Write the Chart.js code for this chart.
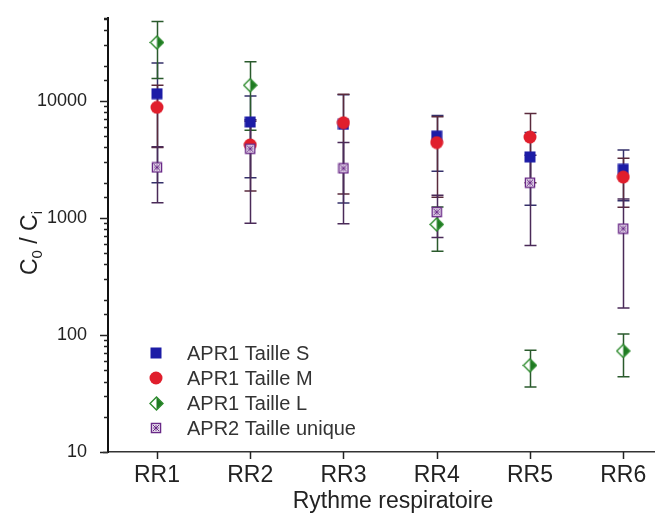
<!DOCTYPE html>
<html>
<head>
<meta charset="utf-8">
<script src="https://cdn.jsdelivr.net/npm/chart.js@4.4.0/dist/chart.umd.min.js"></script>
<style>
  html, body { margin: 0; padding: 0; background: #fff; }
  #wrap { width: 659px; height: 514px; }
</style>
</head>
<body>
<div id="wrap"><canvas id="myChart" width="659" height="514"></canvas></div>
<script>
const categories = ["RR1", "RR2", "RR3", "RR4", "RR5", "RR6"];
const seriesNames = ["APR1 Taille S", "APR1 Taille M", "APR1 Taille L", "APR2 Taille unique"];

// values and +/- error (null = no point)
const tailleS = [11500, 6600, 6300, 5000, 3320, 2600];
const tailleSErr = [9500, 4400, 4960, 2500, 2040, 1200];
const tailleM = [8800, 4200, 6500, 4400, 4900, 2230];
const tailleMErr = [4800, 2500, 4900, 2900, 2900, 1000];
const tailleL = [31500, 13600, null, 880, 55, 73];
const tailleLErr = [16000, 8000, null, 360, 19, 29];
const tailleU = [2700, 3900, 2650, 1120, 2000, 810];
const tailleUErr = [1350, 3000, 1760, 440, 1420, 640];
const yTickLabels = [10, 100, 1000, 10000];

const FONT = '"Liberation Sans", Arial, sans-serif';

function makeMarker(size, draw) {
  const c = document.createElement("canvas");
  c.width = size;
  c.height = size;
  draw(c.getContext("2d"), size);
  return c;
}

const markS = makeMarker(12, (g, s) => {
  g.fillStyle = "#1c1ca6";
  g.fillRect(0.5, 0.5, s - 1, s - 1);
});
const markM = makeMarker(14, (g, s) => {
  g.fillStyle = "#e01e2c";
  g.beginPath();
  g.arc(s / 2, s / 2, s / 2 - 0.5, 0, Math.PI * 2);
  g.fill();
});
const markL = makeMarker(15, (g, s) => {
  const c = s / 2, r = s / 2 - 1;
  g.fillStyle = "#fff";
  g.beginPath();
  g.moveTo(c, c - r); g.lineTo(c + r, c); g.lineTo(c, c + r); g.lineTo(c - r, c);
  g.closePath();
  g.fill();
  g.fillStyle = "#1f7a22";
  g.beginPath();
  g.moveTo(c, c - r); g.lineTo(c + r, c); g.lineTo(c, c + r);
  g.closePath();
  g.fill();
  g.strokeStyle = "#2e8b2e";
  g.lineWidth = 1.4;
  g.beginPath();
  g.moveTo(c, c - r); g.lineTo(c + r, c); g.lineTo(c, c + r); g.lineTo(c - r, c);
  g.closePath();
  g.stroke();
});
const markU = makeMarker(12, (g, s) => {
  g.fillStyle = "#fff";
  g.fillRect(1, 1, s - 2, s - 2);
  g.strokeStyle = "#6a2a88";
  g.lineWidth = 1.5;
  g.strokeRect(1.5, 1.5, s - 3, s - 3);
  g.lineWidth = 1;
  g.beginPath();
  g.moveTo(3, 3); g.lineTo(s - 3, s - 3);
  g.moveTo(s - 3, 3); g.lineTo(3, s - 3);
  g.stroke();
  g.beginPath();
  g.arc(s / 2, s / 2, 2.2, 0, Math.PI * 2);
  g.stroke();
});

function toPoints(values, errs) {
  const pts = [];
  values.forEach((v, i) => {
    if (v != null) pts.push({ x: i, y: v, err: errs[i] });
  });
  return pts;
}

const errorBars = {
  id: "errorBars",
  beforeDatasetsDraw(chart) {
    const { ctx, scales: { x, y } } = chart;
    ctx.save();
    ctx.lineWidth = 1.5;
    chart.data.datasets.forEach((ds) => {
      ctx.strokeStyle = ds.errorColor;
      ds.data.forEach((p) => {
        const px = Math.round(x.getPixelForValue(p.x)) + 0.5;
        const top = y.getPixelForValue(p.y + p.err);
        const bot = y.getPixelForValue(Math.max(p.y - p.err, 1e-6));
        ctx.beginPath();
        ctx.moveTo(px, top);
        ctx.lineTo(px, bot);
        ctx.moveTo(px - 6, top);
        ctx.lineTo(px + 6, top);
        ctx.moveTo(px - 6, bot);
        ctx.lineTo(px + 6, bot);
        ctx.stroke();
      });
    });
    ctx.restore();
  }
};

const decorations = {
  id: "decorations",
  afterDraw(chart) {
    const { ctx, scales: { x, y }, chartArea } = chart;
    ctx.save();
    // tick marks
    ctx.strokeStyle = "#222";
    ctx.lineWidth = 1.5;
    y.ticks.forEach((t) => {
      const py = Math.round(y.getPixelForValue(t.value)) + 0.5;
      const major = Math.abs(Math.log10(t.value) - Math.round(Math.log10(t.value))) < 1e-9;
      const len = major ? 8 : 4;
      ctx.beginPath();
      ctx.moveTo(chartArea.left - len, py);
      ctx.lineTo(chartArea.left, py);
      ctx.stroke();
    });
    categories.forEach((c, i) => {
      const px = Math.round(x.getPixelForValue(i)) + 0.5;
      ctx.beginPath();
      ctx.moveTo(px, chartArea.bottom);
      ctx.lineTo(px, chartArea.bottom + 7);
      ctx.stroke();
    });
    // x axis line reaches a little left of the y axis
    ctx.strokeStyle = "#333";
    ctx.beginPath();
    ctx.moveTo(chartArea.left - 5, chartArea.bottom + 0.5);
    ctx.lineTo(chartArea.left, chartArea.bottom + 0.5);
    ctx.stroke();

    // axis titles
    ctx.fillStyle = "#222";
    ctx.textBaseline = "alphabetic";
    ctx.textAlign = "center";
    ctx.font = "23px " + FONT;
    ctx.fillText("Rythme respiratoire", 393, 508);

    ctx.translate(37, 243);
    ctx.rotate(-Math.PI / 2);
    const parts = [["C", 23, 0], ["0", 15, 5], [" / ", 23, 0], ["C", 23, 0], ["i", 15, 5]];
    let total = 0;
    parts.forEach(([t, s]) => { ctx.font = s + "px " + FONT; total += ctx.measureText(t).width; });
    let cx = -total / 2;
    ctx.textAlign = "left";
    parts.forEach(([t, s, dy]) => {
      ctx.font = s + "px " + FONT;
      ctx.fillText(t, cx, dy);
      cx += ctx.measureText(t).width;
    });
    ctx.restore();

    // legend
    ctx.save();
    ctx.font = "20px " + FONT;
    ctx.fillStyle = "#333";
    ctx.textBaseline = "middle";
    ctx.textAlign = "left";
    chart.data.datasets.forEach((ds, i) => {
      const ly = 353 + i * 25;
      const m = ds.pointStyle;
      ctx.drawImage(m, Math.round(156 - m.width / 2), Math.round(ly - m.height / 2));
      ctx.fillText(ds.label, 187, ly + 1);
    });
    ctx.restore();
  }
};

const ctx = document.getElementById("myChart").getContext("2d");

const data = {
  datasets: [
    { label: seriesNames[0], data: toPoints(tailleS, tailleSErr), pointStyle: markS, errorColor: "#35306a", order: 3 },
    { label: seriesNames[1], data: toPoints(tailleM, tailleMErr), pointStyle: markM, errorColor: "#5a2a3c", order: 2 },
    { label: seriesNames[2], data: toPoints(tailleL, tailleLErr), pointStyle: markL, errorColor: "#2a5a2c", order: 1 },
    { label: seriesNames[3], data: toPoints(tailleU, tailleUErr), pointStyle: markU, errorColor: "#4a2a58", order: 0 }
  ]
};

const config = {
  type: "scatter",
  data: data,
  options: {
    responsive: false,
    devicePixelRatio: 1,
    animation: false,
    events: [],
    layout: { padding: { top: 18, left: 0, right: 0, bottom: 0 } },
    plugins: { legend: { display: false }, tooltip: { enabled: false } },
    scales: {
      x: {
        type: "linear",
        bounds: "data",
        min: -0.525,
        max: 5.33,
        afterBuildTicks: (s) => { s.ticks = categories.map((c, i) => ({ value: i })); },
        afterFit: (s) => { s.height = 62; s.paddingLeft = 0; s.paddingRight = 0; },
        grid: { display: false },
        border: { display: true, color: "#333", width: 1.5 },
        ticks: {
          autoSkip: false,
          maxRotation: 0,
          padding: 2,
          color: "#222",
          font: { family: FONT, size: 23 },
          callback: (v, i) => categories[i] ?? ""
        }
      },
      y: {
        type: "logarithmic",
        bounds: "data",
        min: 10,
        max: 51000,
        afterFit: (s) => { s.width = 108; s.paddingTop = 0; s.paddingBottom = 0; },
        grid: { display: false },
        border: { display: true, color: "#111", width: 2 },
        ticks: {
          autoSkip: false,
          padding: 13,
          color: "#222",
          font: { family: FONT, size: 18 },
          callback: (v) => (yTickLabels.includes(v) ? String(v) : "")
        }
      }
    }
  },
  plugins: [errorBars, decorations]
};

const chart = new Chart(ctx, config);
</script>
</body>
</html>
